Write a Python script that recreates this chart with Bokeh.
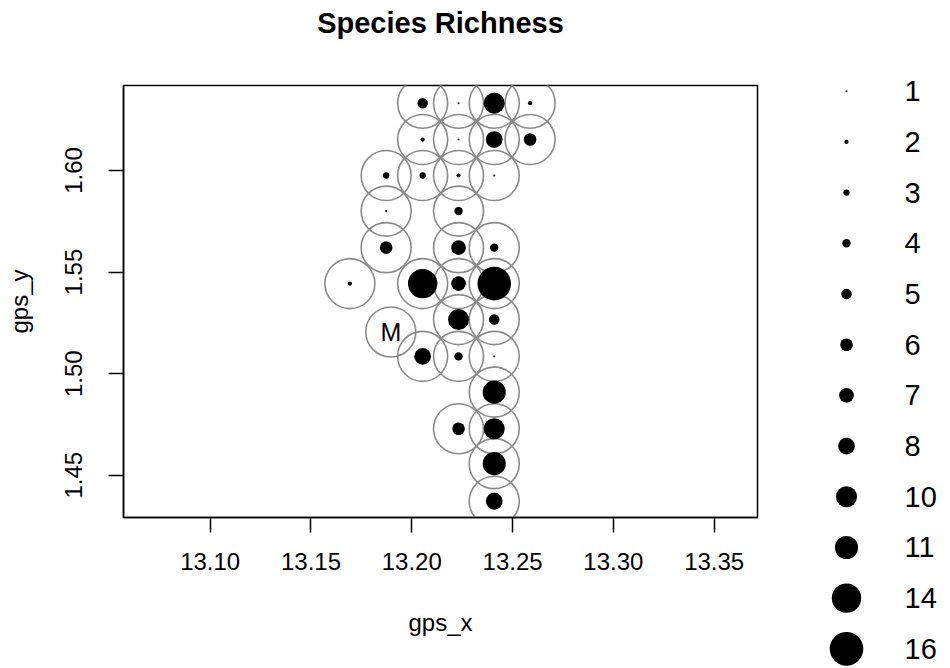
from bokeh.plotting import figure
from bokeh.layouts import row
from bokeh.models import (Range1d, FixedTicker, ColumnDataSource, NumeralTickFormatter,
                          Title, LinearAxis)
from bokeh.embed import file_html
from bokeh.resources import INLINE
from bokeh.core.properties import value

# ---------------- data ----------------
title_text = "Species Richness"
x_label = "gps_x"
y_label = "gps_y"
x_ticks = [13.10, 13.15, 13.20, 13.25, 13.30, 13.35]
y_ticks = [1.45, 1.50, 1.55, 1.60]

site_x = [13.2054, 13.2232, 13.2409, 13.2587,
          13.2054, 13.2232, 13.2409, 13.2587,
          13.1873, 13.2054, 13.2232, 13.2409,
          13.1873, 13.2232,
          13.1873, 13.2232, 13.2409,
          13.1693, 13.2054, 13.2232, 13.2409,
          13.2232, 13.2409,
          13.2054, 13.2232, 13.2409,
          13.2409,
          13.2232, 13.2409,
          13.2409,
          13.2409]
site_y = [1.6331, 1.6331, 1.6331, 1.6331,
          1.6152, 1.6152, 1.6152, 1.6152,
          1.5975, 1.5975, 1.5975, 1.5975,
          1.5800, 1.5800,
          1.5620, 1.5620, 1.5620,
          1.5443, 1.5443, 1.5443, 1.5443,
          1.5266, 1.5266,
          1.5085, 1.5085, 1.5085,
          1.4909,
          1.4729, 1.4729,
          1.4557,
          1.4372]
richness = [5, 1, 10, 2,
            2, 1, 8, 6,
            3, 3, 2, 1,
            1, 4,
            6, 7, 4,
            2, 14, 7, 16,
            10, 5,
            8, 4, 1,
            11,
            6, 10,
            11,
            8]

marker_x = [13.1896]
marker_y = [1.5205]
marker_text = ["M"]

legend_values = [1, 2, 3, 4, 5, 6, 7, 8, 10, 11, 14, 16]
legend_labels = [str(v) for v in legend_values]

# ---------------- styling ----------------
FONT = "Liberation Sans"
DOT_SCALE = 2.1      # px of diameter per unit of richness
RING_SIZE = 50       # px diameter of the outline rings
RING_COLOR = "#8a8a8a"
H = 668

src = ColumnDataSource(dict(x=site_x, y=site_y, r=richness,
                            s=[DOT_SCALE * v for v in richness]))

FRAME_W, FRAME_H = 634, 432
p = figure(width=790, height=H, output_backend="svg", toolbar_location=None,
           x_range=Range1d(13.0570, 13.3715), y_range=Range1d(1.4292, 1.6418),
           min_border_left=123, min_border_right=790 - 123 - FRAME_W,
           min_border_top=85, min_border_bottom=H - 85 - FRAME_H,
           title_location=None)
if hasattr(p, "frame_align"):
    p.frame_align = False

xax = p.below[0]
yax = p.left[0]

for ax in (xax, yax):
    ax.axis_line_color = "black"
    ax.axis_line_width = 1.5
    ax.major_tick_line_color = "black"
    ax.major_tick_line_width = 1.5
    ax.major_tick_in = 0
    ax.major_tick_out = 15
    ax.minor_tick_line_color = None
    ax.major_label_text_font = FONT
    ax.major_label_text_font_size = "24px"
    ax.major_label_text_color = "black"
    ax.axis_label_text_font = FONT
    ax.axis_label_text_font_size = "24px"
    ax.axis_label_text_font_style = "normal"
    ax.axis_label_text_color = "black"
    ax.formatter = NumeralTickFormatter(format="0.00")

xax.ticker = FixedTicker(ticks=x_ticks)
yax.ticker = FixedTicker(ticks=y_ticks)
xax.axis_label = x_label
yax.axis_label = y_label
xax.major_label_standoff = 20
xax.axis_label_standoff = 36
yax.major_label_orientation = "vertical"
yax.major_label_standoff = 26
yax.axis_label_standoff = 30

# invisible spacer between the frame and the title (keeps the title high up)
spacer = LinearAxis(ticker=FixedTicker(ticks=[x_ticks[2]]), axis_line_color=None,
                    major_tick_line_color=None, minor_tick_line_color=None,
                    major_tick_in=0, major_tick_out=44, minor_tick_in=0, minor_tick_out=0,
                    major_label_text_color=None, major_label_text_font_size="1px",
                    major_label_standoff=0)
p.add_layout(spacer, "above")

p.add_layout(Title(text=title_text, align="center", vertical_align="bottom", standoff=6,
                   text_font=FONT, text_font_size="29px", text_font_style="bold",
                   text_color="black"), "above")

p.xgrid.visible = False
p.ygrid.visible = False
p.outline_line_color = "black"
p.outline_line_width = 1.5
p.outline_line_alpha = 1

# rings around every site
p.scatter(x="x", y="y", source=src, size=RING_SIZE, fill_color=None,
          line_color=RING_COLOR, line_width=1.6)
p.scatter(x=marker_x, y=marker_y, size=RING_SIZE, fill_color=None,
          line_color=RING_COLOR, line_width=1.6)
# richness dots
p.scatter(x="x", y="y", source=src, size="s", fill_color="black", line_color=None)
# marker text
p.text(x=marker_x, y=marker_y, text=marker_text, text_font=value(FONT),
       text_font_size="25px", text_align="center", text_baseline="middle",
       text_color="black")

# ---------------- legend panel ----------------
n = len(legend_values)
leg_src = ColumnDataSource(dict(
    x=[0] * n, y=list(range(n)), s=[DOT_SCALE * v for v in legend_values],
    t=legend_labels))

leg = figure(width=152, height=H, output_backend="svg", toolbar_location=None,
             x_range=Range1d(-56, 96), y_range=Range1d(11.387, -1.789),
             x_axis_type=None, y_axis_type=None,
             min_border=0, min_border_left=0, min_border_right=0,
             min_border_top=0, min_border_bottom=0)
if hasattr(leg, "frame_align"):
    leg.frame_align = False
leg.outline_line_color = None
leg.xgrid.visible = False
leg.ygrid.visible = False
leg.scatter(x="x", y="y", source=leg_src, size="s", fill_color="black", line_color=None)
leg.text(x="x", y="y", text="t", source=leg_src, x_offset=58,
         text_font=value(FONT), text_font_size="29px", text_align="left",
         text_baseline="middle", text_color="black")

layout = row(p, leg)

with open("out.html", "w") as f:
    f.write(file_html(layout, INLINE))
